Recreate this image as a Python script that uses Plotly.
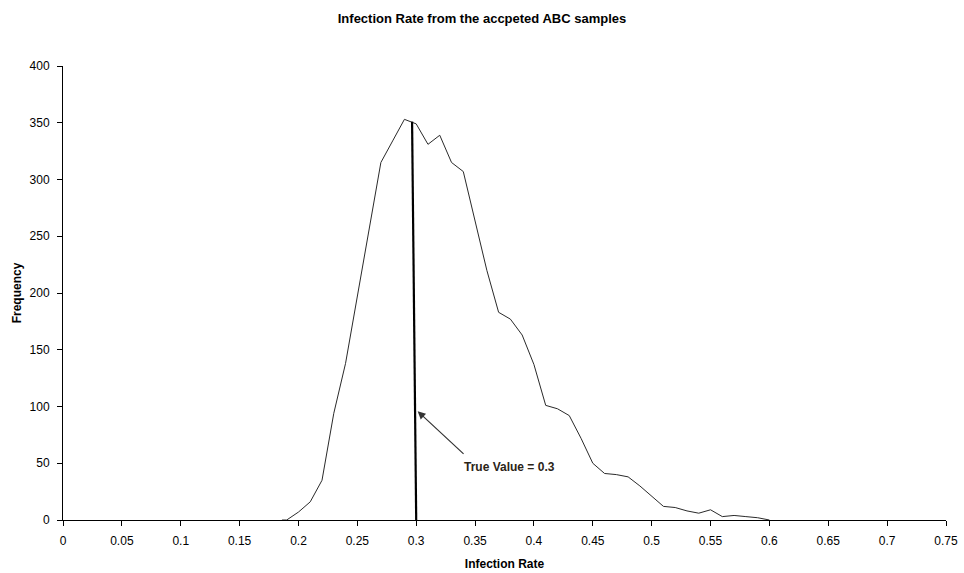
import plotly.graph_objects as go

infection_rate = [0.186, 0.19, 0.20, 0.21, 0.22, 0.23, 0.24, 0.25, 0.26, 0.27, 0.28, 0.29,
                  0.30, 0.31, 0.32, 0.33, 0.34, 0.35, 0.36, 0.37, 0.38, 0.39, 0.40, 0.41,
                  0.42, 0.43, 0.44, 0.45, 0.46, 0.47, 0.48, 0.49, 0.50, 0.51, 0.52, 0.53,
                  0.54, 0.55, 0.56, 0.57, 0.58, 0.59, 0.60]
frequency = [0, 0, 7, 16, 35, 94, 138, 197, 256, 315, 334, 353,
             349, 331, 339, 315, 307, 264, 220, 183, 177, 163, 137, 101,
             98, 92, 72, 50, 41, 40, 38, 30, 21, 12, 11, 8,
             6, 9, 3, 4, 3, 2, 0]

x_ticks = [0, 0.05, 0.1, 0.15, 0.2, 0.25, 0.3, 0.35, 0.4, 0.45, 0.5, 0.55, 0.6, 0.65, 0.7, 0.75]
x_tick_text = ["0", "0.05", "0.1", "0.15", "0.2", "0.25", "0.3", "0.35", "0.4", "0.45",
               "0.5", "0.55", "0.6", "0.65", "0.7", "0.75"]
y_ticks = [0, 50, 100, 150, 200, 250, 300, 350, 400]

true_value = 0.3
true_line_top = 351
arrow_head = (0.3, 97)
arrow_tail = (0.3415, 57)

font = "Liberation Sans, Arial, sans-serif"

fig = go.Figure()
fig.add_trace(go.Scatter(x=infection_rate, y=frequency, mode="lines",
                         line=dict(color="#2a2a2a", width=1), showlegend=False,
                         hoverinfo="skip"))

fig.add_shape(type="line", xref="x", yref="y", x0=true_value, y0=0,
              x1=true_value - 0.0035, y1=true_line_top,
              line=dict(color="black", width=2.2))

fig.add_annotation(x=arrow_head[0], y=arrow_head[1], ax=arrow_tail[0], ay=arrow_tail[1],
                   xref="x", yref="y", axref="x", ayref="y", text="",
                   showarrow=True, arrowhead=2, arrowsize=1.3, arrowwidth=1.2,
                   arrowcolor="#333333", standoff=2)
fig.add_annotation(x=0.3795, y=47, xref="x", yref="y", text="<b>True Value = 0.3</b>",
                   showarrow=False, font=dict(family=font, size=12, color="#2b2418"))

fig.update_layout(
    width=964, height=573,
    margin=dict(l=63, r=18, t=66, b=53, autoexpand=False),
    paper_bgcolor="white", plot_bgcolor="white",
    title=dict(text="<b>Infection Rate from the accpeted ABC samples</b>",
               x=0.5, xanchor="center", y=1 - 18 / 573, yanchor="middle",
               font=dict(family=font, size=13, color="black")),
    font=dict(family=font, size=12, color="black"),
    xaxis=dict(range=[0, 0.75], tickvals=x_ticks, ticktext=x_tick_text,
               showline=True, linecolor="black", linewidth=1, automargin=False,
               ticks="outside", ticklen=5, tickcolor="black", ticklabelstandoff=5,
               showgrid=False, zeroline=False,
               tickfont=dict(family=font, size=12, color="black"),
               title=dict(text="<b>Infection Rate</b>", standoff=12,
                          font=dict(family=font, size=12, color="black"))),
    yaxis=dict(range=[0, 400], tickvals=y_ticks,
               showline=True, linecolor="black", linewidth=1, automargin=False,
               ticks="outside", ticklen=5, tickcolor="black", ticklabelstandoff=5,
               showgrid=False, zeroline=False,
               tickfont=dict(family=font, size=12, color="black"),
               title=dict(text="<b>Frequency</b>", standoff=5,
                          font=dict(family=font, size=12, color="black"))),
)

fig.write_html("out.html")
